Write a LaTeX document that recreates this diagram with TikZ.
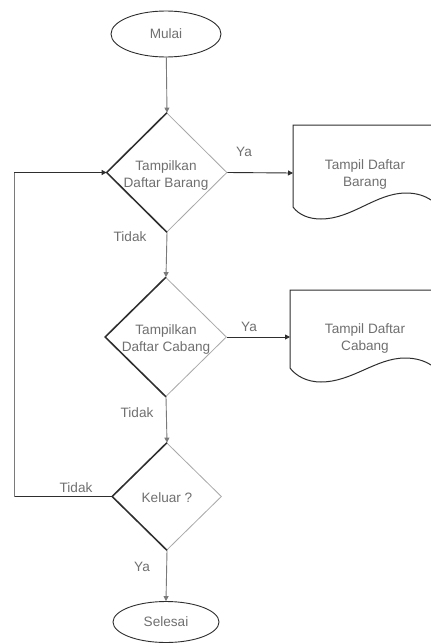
\documentclass[tikz,border=0pt]{standalone}
\usepackage{fontspec}
\setmainfont{Liberation Sans}
\usetikzlibrary{shapes.geometric,arrows.meta}
\definecolor{txtgray}{HTML}{707070}
\definecolor{edgedark}{HTML}{2E2E2E}
\definecolor{edgelight}{HTML}{A8A8A8}
\definecolor{vline}{HTML}{7A7A7A}
\tikzset{
  lbl/.style={font=\fontsize{13.6}{17}\selectfont, text=txtgray, inner sep=0pt, align=center},
  term/.style={ellipse, draw=edgedark, line width=0.9pt, minimum width=110pt, minimum height=46pt, inner sep=0pt, font=\fontsize{13.6}{17}\selectfont, text=txtgray},
  decshape/.style={diamond, draw=edgelight, line width=0.8pt, inner sep=0pt},
  darkedge/.style={draw=edgedark, line width=1.5pt},
  flowv/.style={draw=vline, line width=0.9pt, -{Triangle[length=5pt,width=5pt]}},
  flowvplain/.style={draw=vline, line width=0.9pt},
  flowh/.style={draw=edgedark, line width=0.9pt, -{Triangle[length=5pt,width=5pt]}},
  flowhplain/.style={draw=edgedark, line width=0.9pt},
  docshape/.style={draw=edgedark, line width=1pt},
}
\begin{document}
\begin{tikzpicture}[x=1pt,y=-1pt]
\useasboundingbox (0,0) rectangle (431,643);
\fill[white] (0,0) rectangle (431,643);

% terminals
\node[term] (mulai) at (166,34) {Mulai};
\node[term, minimum width=106pt, minimum height=41pt] (selesai) at (166,622) {Selesai};

% decisions
\node[decshape, minimum width=120pt, minimum height=119pt] (d1) at (167,172.5) {};
\draw[darkedge] (d1.north) -- (d1.west) -- (d1.south);
\node[lbl] (d1t) at (166,175.5) {Tampilkan\\Daftar Barang};

\node[decshape, minimum width=121pt, minimum height=119pt] (d2) at (166,337) {};
\draw[darkedge] (d2.north) -- (d2.west) -- (d2.south);
\node[lbl] (d2t) at (166,339) {Tampilkan\\Daftar Cabang};

\node[decshape, minimum width=109pt, minimum height=107pt] (d3) at (167,496.5) {};
\draw[darkedge] (d3.north) -- (d3.west) -- (d3.south);
\node[lbl] (d3t) at (167,498) {Keluar ?};

% documents
\coordinate (doc1w) at (293,173);
\coordinate (doc1tl) at (293,125);
\coordinate (doc1tr) at (431,125);
\coordinate (doc1bl) at (293,207);
\path[docshape] (doc1tr) -- (doc1tl) -- (doc1bl)
  .. controls (299,215) and (309,219) .. (321,219)
  .. controls (352,219) and (376,193) .. (406,193)
  .. controls (417,193) and (425,196) .. (431,200);
\node[lbl] (doc1t) at (365,174.5) {Tampil Daftar\\Barang};

\coordinate (doc2w) at (290,337);
\coordinate (doc2tl) at (290,290);
\coordinate (doc2tr) at (431,290);
\coordinate (doc2bl) at (290,368);
\path[docshape] (doc2tr) -- (doc2tl) -- (doc2bl)
  .. controls (296,376) and (307,382) .. (321,382)
  .. controls (352,382) and (376,358) .. (405,358)
  .. controls (416,358) and (425,361) .. (431,365);
\node[lbl] (doc2t) at (365,338.5) {Tampil Daftar\\Cabang};

% loop corners
\coordinate (lb) at (14,496.5);
\coordinate (lt) at (14,172.5);

% connectors
\draw[flowv] (mulai) -- (d1.north);
\draw[flowh] (d1.east) -- (doc1w);
\draw[flowv] (d1.south) -- (d2.north);
\draw[flowh] (d2.east) -- (doc2w);
\draw[flowv] (d2.south) -- (d3.north);
\draw[flowv] (d3.south) -- (selesai.north);
\draw[flowhplain] (d3.west) -- (lb);
\draw[flowvplain] (lb) -- (lt);
\draw[flowh] (lt) -- (d1.west);

% edge labels
\node[lbl] (ya1) at (244,152) {Ya};
\node[lbl] (ya2) at (249,327) {Ya};
\node[lbl] (ya3) at (142,567) {Ya};
\node[lbl] (tidak1) at (130,237) {Tidak};
\node[lbl] (tidak2) at (137,413) {Tidak};
\node[lbl] (tidak3) at (76,488) {Tidak};
\end{tikzpicture}
\end{document}
